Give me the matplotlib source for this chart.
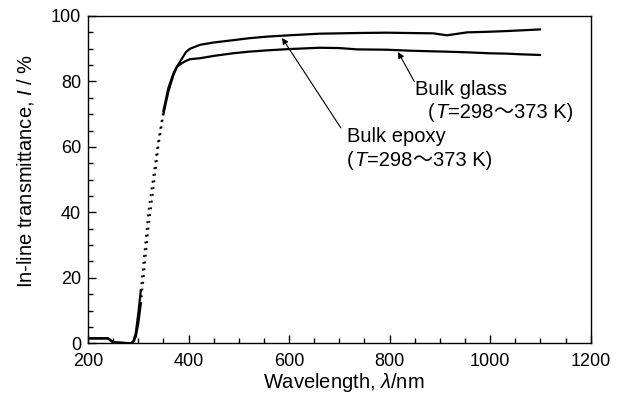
import matplotlib
matplotlib.use("Agg")
import matplotlib.pyplot as plt
from matplotlib.ticker import MultipleLocator
from matplotlib.offsetbox import TextArea, HPacker, AnnotationBbox
import numpy as np

plt.rcParams['font.family'] = ['Liberation Sans', 'DejaVu Sans']
plt.rcParams['mathtext.fontset'] = 'custom'
plt.rcParams['mathtext.rm'] = 'Liberation Sans'
plt.rcParams['mathtext.it'] = 'Liberation Sans:italic'

# Data
wavelength = [200, 240, 250, 285, 290, 295, 300, 305, 310, 315, 320, 330, 340, 350,
              360, 370, 377, 387, 395, 403, 423, 450, 488, 520, 556, 600, 661, 700,
              735, 794, 840, 887, 914, 954, 1000, 1033, 1060, 1099]
epoxy = [1.5, 1.5, 0.3, 0.0, 0.3, 2.0, 6.0, 12.0, 19.0, 27.0, 35.0, 47.0, 60.0, 70.0,
         77.0, 82.0, 84.5, 87.0, 89.0, 90.0, 91.2, 91.9, 92.6, 93.2, 93.7, 94.1, 94.6, 94.7,
         94.8, 94.9, 94.8, 94.7, 94.1, 95.0, 95.2, 95.4, 95.6, 95.9]
glass = [1.5, 1.5, 0.3, 0.0, 0.5, 3.0, 9.0, 16.0, 24.0, 32.0, 40.0, 51.0, 62.0, 71.0,
         78.0, 82.5, 84.5, 85.6, 86.3, 86.8, 87.1, 87.8, 88.6, 89.1, 89.5, 89.9, 90.3, 90.2,
         89.8, 89.7, 89.4, 89.2, 89.1, 88.9, 88.6, 88.5, 88.3, 88.1]

FS = 14.5
FAM = ['Liberation Sans', 'DejaVu Sans']

fig = plt.figure(figsize=(6.32, 3.96), dpi=100)
ax = fig.add_axes([0.1392, 0.1331, 0.7955, 0.8265])

w = np.array(wavelength)
for series in (epoxy, glass):
    s = np.array(series)
    lo = w <= 305
    mid = (w >= 305) & (w <= 350)
    hi = w >= 350
    ax.plot(w[lo], s[lo], color='black', lw=1.6)
    ax.plot(w[mid], s[mid], color='black', lw=1.4, linestyle=(0, (1, 2.5)))
    ax.plot(w[hi], s[hi], color='black', lw=1.6)

ax.set_xlim(200, 1200)
ax.set_ylim(0, 100)
ax.xaxis.set_major_locator(MultipleLocator(200))
ax.xaxis.set_minor_locator(MultipleLocator(50))
ax.yaxis.set_major_locator(MultipleLocator(20))
ax.yaxis.set_minor_locator(MultipleLocator(5))
ax.tick_params(which='both', direction='in', top=False, right=False, labelsize=13, width=1.0)
ax.tick_params(which='major', length=6)
ax.tick_params(which='minor', length=3.6)
ax.tick_params(axis='y', pad=5)
ax.tick_params(axis='x', pad=7)
for sp in ax.spines.values():
    sp.set_linewidth(1.0)

ax.set_xlabel(r'Wavelength, $\mathit{\lambda}$/nm', fontsize=FS)
ax.set_ylabel(r'In-line transmittance, $\mathit{I}$ / %', fontsize=FS)
ax.xaxis.set_label_coords(0.509, -0.084)
ax.yaxis.set_label_coords(-0.104, 0.525)


def temp_label(x, y):
    base = dict(fontsize=FS, family=FAM)
    parts = [TextArea('(', textprops=base),
             TextArea('T', textprops=dict(base, style='italic')),
             TextArea('=298', textprops=base),
             TextArea('〜', textprops=dict(base, family=['Noto Sans CJK JP'])),
             TextArea('373 K)', textprops=base)]
    box = HPacker(children=parts, align='baseline', pad=0, sep=0.3)
    ab = AnnotationBbox(box, (x, y), xycoords='data', box_alignment=(0, 0),
                        frameon=False, pad=0)
    ax.add_artist(ab)


# Annotations
ax.annotate('', xy=(816.7, 89.0), xytext=(849.0, 80.0),
            arrowprops=dict(arrowstyle='-|>', color='black', lw=0.8,
                            mutation_scale=9, shrinkA=0, shrinkB=0))
ax.text(851, 75.9, 'Bulk glass', fontsize=FS, ha='left', va='baseline')
temp_label(876, 67.3)

ax.annotate('', xy=(586, 93.3), xytext=(703, 65.8),
            arrowprops=dict(arrowstyle='-|>', color='black', lw=0.8,
                            mutation_scale=9, shrinkA=0, shrinkB=0))
ax.text(715, 61.6, 'Bulk epoxy', fontsize=FS, ha='left', va='baseline')
temp_label(715, 52.6)

fig.savefig('out.png', dpi=100)
